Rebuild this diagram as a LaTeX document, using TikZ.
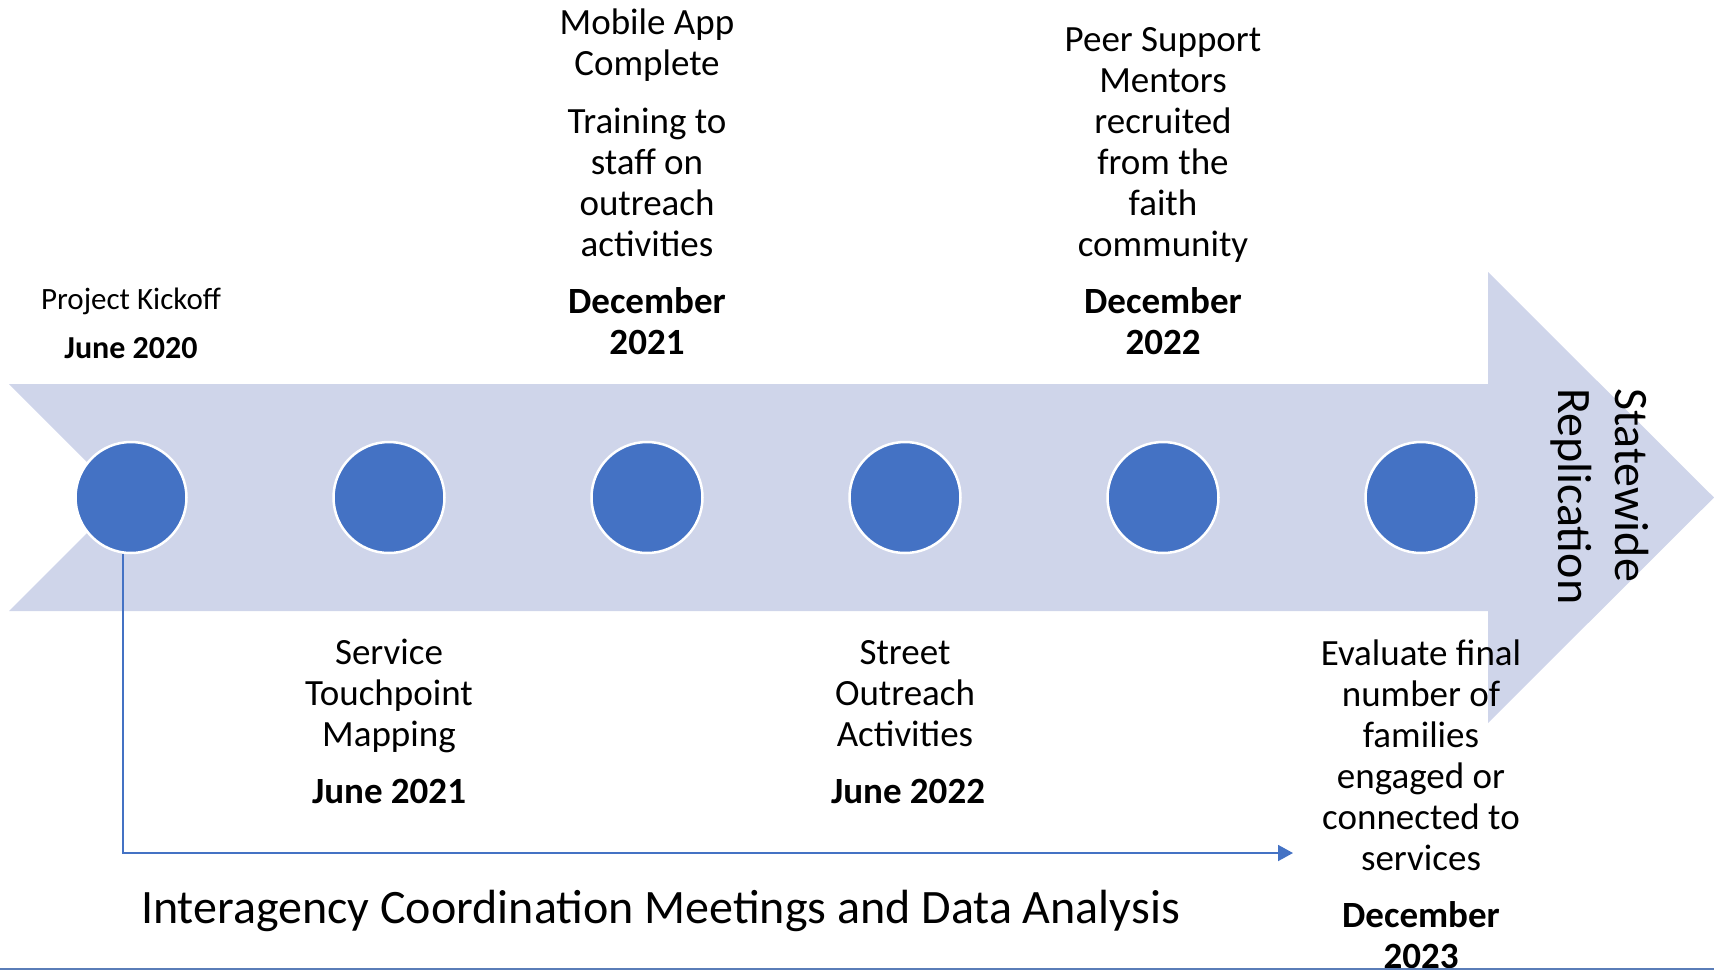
\documentclass[tikz,border=0pt]{standalone}
\usepackage{fontspec}
\setmainfont{Carlito}
\usetikzlibrary{arrows.meta}
\definecolor{band}{HTML}{CFD5EA}
\definecolor{dot}{HTML}{4472C4}
\definecolor{rulecol}{HTML}{5A7DB8}
\begin{document}
\begin{tikzpicture}[x=1pt,y=-1pt,
  dotnode/.style={circle,fill=dot,draw=white,line width=2.5pt,minimum size=111pt,inner sep=0pt},
  lbl/.style={inner sep=0pt,align=center,font=\fontsize{37}{41}\selectfont},
  conn/.style={draw=dot,line width=1.8pt,-{Triangle[length=15pt,width=16pt]}}]
\useasboundingbox (0,0) rectangle (1714,970);
% band arrow
\fill[band] (9,384) -- (1488,384) -- (1488,272) -- (1714,497.5) -- (1488,723)
  -- (1488,611) -- (9,611) -- (122.5,497.5) -- cycle;
% milestones
\node[dotnode] (c1) at (131,497.5) {};
\node[dotnode] (c2) at (389,497.5) {};
\node[dotnode] (c3) at (647,497.5) {};
\node[dotnode] (c4) at (905,497.5) {};
\node[dotnode] (c5) at (1163,497.5) {};
\node[dotnode] (c6) at (1421,497.5) {};
% connector
\coordinate (cend) at (1293,853);
\draw[conn] ([xshift=-8pt]c1.south) |- (cend);
% labels
\node[lbl,anchor=south] (kick) at (131,359)
  {{\fontsize{31}{38}\selectfont Project Kickoff}\\[8pt]{\fontsize{32}{38}\selectfont\bfseries June 2020}};
\node[lbl,anchor=south] (mob) at (647,355)
  {Mobile App\\Complete\\[17pt]Training to\\staff on\\outreach\\activities\\[16pt]\textbf{December}\\\textbf{2021}};
\node[lbl,anchor=south] (peer) at (1163,355)
  {Peer Support\\Mentors\\recruited\\from the\\faith\\community\\[16pt]\textbf{December}\\\textbf{2022}};
\node[lbl,anchor=south] (serv) at (389,804)
  {Service\\Touchpoint\\Mapping\\[16pt]\textbf{June 2021}};
\node[lbl,anchor=south] (street) at (905,804)
  {Street\\Outreach\\Activities\\[16pt]\hspace*{6pt}\textbf{June 2022}};
\node[lbl,anchor=south] (eval) at (1421,969)
  {Evaluate final\\number of\\families\\engaged or\\connected to\\services\\[16pt]\textbf{December}\\\textbf{2023}};
\node[anchor=base,inner sep=0pt,font=\fontsize{48}{57}\selectfont] (meet) at (660.5,923)
  {Interagency Coordination Meetings and Data Analysis};
\node[rotate=-90,anchor=north west,inner sep=0pt,align=left,font=\fontsize{48}{57}\selectfont] (state) at (1649,388)
  {Statewide\\Replication};
% bottom rule
\draw[rulecol,line width=2pt] (0,968.5) -- (1714,968.5);
\end{tikzpicture}
\end{document}
